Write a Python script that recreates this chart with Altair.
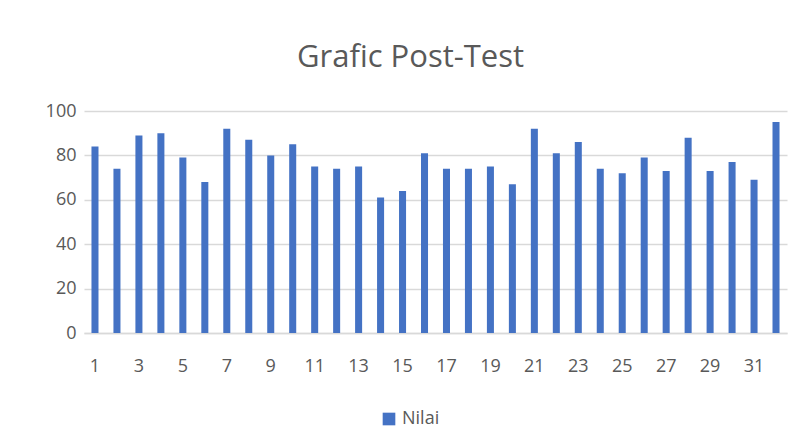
import altair as alt
import pandas as pd

students = list(range(1, 33))
nilai = [84, 74, 89, 90, 79, 68, 92, 87, 80, 85, 75, 74, 75, 61, 64, 81,
         74, 74, 75, 67, 92, 81, 86, 74, 72, 79, 73, 88, 73, 77, 69, 95]
series = ["Nilai"] * len(students)

df = pd.DataFrame({"No": students, "Nilai": nilai, "Seri": series})

FONT = "Open Sans"
GREY = "#595959"

chart = alt.Chart(df).mark_bar(color="#4472C4").encode(
    x=alt.X("No:O", sort=students, title=None,
            scale=alt.Scale(paddingInner=0.68, paddingOuter=0.34),
            axis=alt.Axis(labelAngle=0, ticks=False, domain=True, domainColor="#d9d9d9",
                          domainWidth=1.5, labelPadding=24, labelFontSize=18,
                          labelColor=GREY, labelFont=FONT,
                          labelExpr="datum.value % 2 == 1 ? datum.label : ''")),
    y=alt.Y("Nilai:Q", title=None,
            scale=alt.Scale(domain=[0, 100]),
            axis=alt.Axis(values=[0, 20, 40, 60, 80, 100], ticks=False, domain=False,
                          gridColor="#d9d9d9", gridWidth=1.5, labelPadding=8,
                          labelFontSize=18, labelColor=GREY, labelFont=FONT)),
    color=alt.Color("Seri:N", title=None,
                    scale=alt.Scale(range=["#4472C4"]),
                    legend=alt.Legend(orient="none", legendX=296, legendY=299,
                                      symbolType="square", symbolSize=160,
                                      labelFontSize=18, labelColor=GREY, labelFont=FONT)),
).properties(
    width=703,
    height=222,
    background="white",
    title=alt.TitleParams("Grafic Post-Test", fontSize=31, font=FONT, fontWeight="normal",
                          color=GREY, dx=-25, offset=28),
    autosize=alt.AutoSizeParams(type="none"),
    padding={"left": 76, "top": 103, "right": 5, "bottom": 110},
).configure_view(stroke=None)

chart.save("out.html", embed_options={"renderer": "svg", "actions": False})
